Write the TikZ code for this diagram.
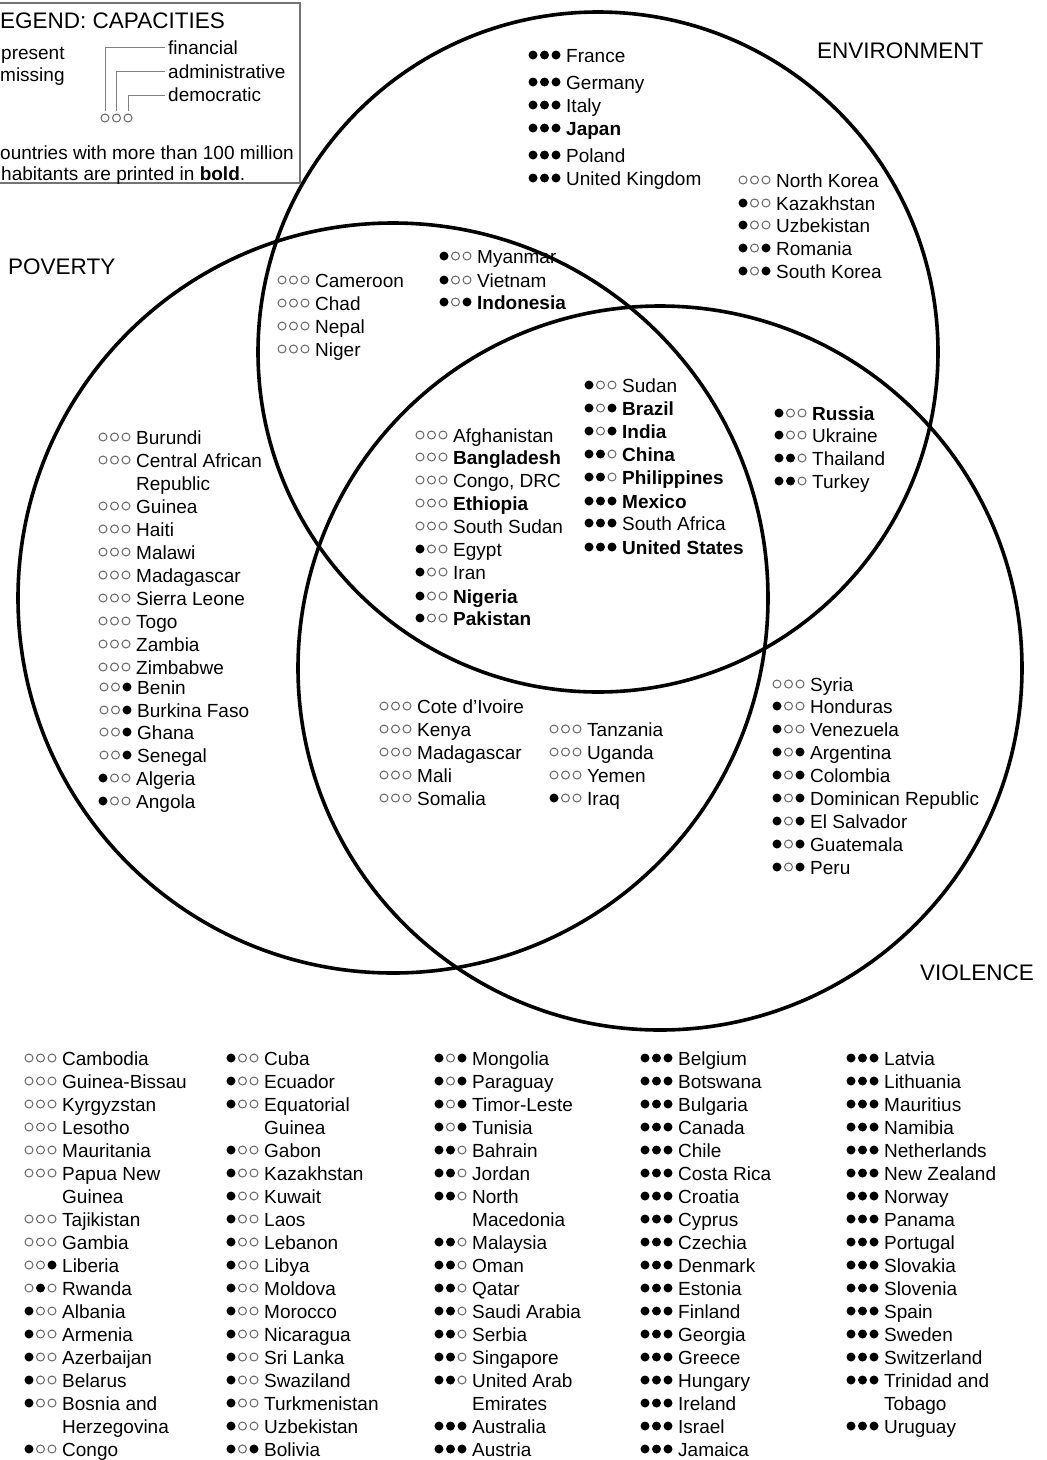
\documentclass[tikz,border=0pt]{standalone}
\usepackage{fontspec}
\setmainfont{Liberation Sans}
\tikzset{
  vc/.style={line width=3.6pt},
  capF/.style={circle, fill=black, inner sep=0pt, minimum size=9pt},
  capO/.style={circle, draw=black!60, line width=1pt, inner sep=0pt, minimum size=8pt},
  ctext/.style={anchor=base west, inner sep=0pt, font=\fontsize{19}{23}\selectfont},
  biglbl/.style={anchor=base west, inner sep=0pt, font=\fontsize{22.5}{27}\selectfont},
  legline/.style={draw=black!50, line width=0.9pt},
  legbox/.style={draw=black!55, line width=1.5pt, fill=white},
}
% #1 text x, #2 y (visual centre of the line), #3-#5 dot types (F/O), #6 name
\newcommand\cty[6]{%
  \node[cap#3] at ({#1-33},{#2}) {};
  \node[cap#4] at ({#1-21.5},{#2}) {};
  \node[cap#5] at ({#1-10},{#2}) {};
  \node[ctext] at ({#1},{#2+7}) {#6};
}
\newcommand\ctycont[3]{\node[ctext] at ({#1},{#2+7}) {#3};}
\begin{document}
\begin{tikzpicture}[x=1pt,y=-1pt]
\useasboundingbox (0,0) rectangle (1047,1460);
\fill[white] (0,0) rectangle (1047,1460);
\clip (0,0) rectangle (1047,1460);

% Venn circles
\draw[vc] (598,352) circle[radius=340pt];
\draw[vc] (393,598) circle[radius=375pt];
\draw[vc] (660,668) circle[radius=362pt];

% Legend
\draw[legbox] (-10,3) rectangle (300,183);
\node[biglbl] (legtitle) at (0,28) {EGEND: CAPACITIES};
\node[ctext] (lpres) at (1,59) {present};
\node[ctext] (lmiss) at (0,81) {missing};
\node[ctext] (lfin) at (168,54) {financial};
\node[ctext] (ladm) at (168,78) {administrative};
\node[ctext] (ldem) at (168,101) {democratic};
\node[capO] (ld1) at (105,118) {};
\node[capO] (ld2) at (116.5,118) {};
\node[capO] (ld3) at (128,118) {};
\draw[legline] ([yshift=3pt]ld1.north) |- (165,47);
\draw[legline] ([yshift=3pt]ld2.north) |- (165,71);
\draw[legline] ([yshift=3pt]ld3.north) |- (165,95);
\node[ctext] (lnote1) at (0,159) {ountries with more than 100 million};
\node[ctext] (lnote2) at (1,180) {habitants are printed in \textbf{bold}.};

% Set labels
\node[biglbl] (lpov) at (8,274) {POVERTY};
\node[biglbl] (lenv) at (817,58) {ENVIRONMENT};
\node[biglbl] (lvio) at (920,980) {VIOLENCE};

% Environment only
\cty{566}{55}{F}{F}{F}{France}
\cty{566}{82}{F}{F}{F}{Germany}
\cty{566}{105}{F}{F}{F}{Italy}
\cty{566}{128}{F}{F}{F}{\bfseries Japan}
\cty{566}{155}{F}{F}{F}{Poland}
\cty{566}{178}{F}{F}{F}{United Kingdom}
\cty{776}{180}{O}{O}{O}{North Korea}
\cty{776}{203}{F}{O}{O}{Kazakhstan}
\cty{776}{225}{F}{O}{O}{Uzbekistan}
\cty{776}{248}{F}{O}{F}{Romania}
\cty{776}{271}{F}{O}{F}{South Korea}

% Poverty and Environment
\cty{315}{280}{O}{O}{O}{Cameroon}
\cty{315}{303}{O}{O}{O}{Chad}
\cty{315}{326}{O}{O}{O}{Nepal}
\cty{315}{349}{O}{O}{O}{Niger}
\cty{477}{256}{F}{O}{O}{Myanmar}
\cty{477}{280}{F}{O}{O}{Vietnam}
\cty{477}{302}{F}{O}{F}{\bfseries Indonesia}

% All three
\cty{453}{435}{O}{O}{O}{Afghanistan}
\cty{453}{457}{O}{O}{O}{\bfseries Bangladesh}
\cty{453}{480}{O}{O}{O}{Congo, DRC}
\cty{453}{503}{O}{O}{O}{\bfseries Ethiopia}
\cty{453}{526}{O}{O}{O}{South Sudan}
\cty{453}{549}{F}{O}{O}{Egypt}
\cty{453}{572}{F}{O}{O}{Iran}
\cty{453}{596}{F}{O}{O}{\bfseries Nigeria}
\cty{453}{618}{F}{O}{O}{\bfseries Pakistan}
\cty{622}{385}{F}{O}{O}{Sudan}
\cty{622}{408}{F}{O}{F}{\bfseries Brazil}
\cty{622}{431}{F}{O}{F}{\bfseries India}
\cty{622}{454}{F}{F}{O}{\bfseries China}
\cty{622}{477}{F}{F}{O}{\bfseries Philippines}
\cty{622}{501}{F}{F}{F}{\bfseries Mexico}
\cty{622}{523}{F}{F}{F}{South Africa}
\cty{622}{547}{F}{F}{F}{\bfseries United States}

% Environment and Violence
\cty{812}{413}{F}{O}{O}{\bfseries Russia}
\cty{812}{435}{F}{O}{O}{Ukraine}
\cty{812}{458}{F}{F}{O}{Thailand}
\cty{812}{481}{F}{F}{O}{Turkey}

% Poverty only
\cty{136}{437}{O}{O}{O}{Burundi}
\cty{136}{460}{O}{O}{O}{Central African}
\ctycont{136}{483}{Republic}
\cty{136}{506}{O}{O}{O}{Guinea}
\cty{136}{529}{O}{O}{O}{Haiti}
\cty{136}{552}{O}{O}{O}{Malawi}
\cty{136}{575}{O}{O}{O}{Madagascar}
\cty{136}{598}{O}{O}{O}{Sierra Leone}
\cty{136}{621}{O}{O}{O}{Togo}
\cty{136}{644}{O}{O}{O}{Zambia}
\cty{136}{667}{O}{O}{O}{Zimbabwe}
\cty{137}{687}{O}{O}{F}{Benin}
\cty{137}{710}{O}{O}{F}{Burkina Faso}
\cty{137}{732}{O}{O}{F}{Ghana}
\cty{137}{755}{O}{O}{F}{Senegal}
\cty{136}{778}{F}{O}{O}{Algeria}
\cty{136}{801}{F}{O}{O}{Angola}

% Poverty and Violence
\cty{417}{706}{O}{O}{O}{Cote d'Ivoire}
\cty{417}{729}{O}{O}{O}{Kenya}
\cty{417}{752}{O}{O}{O}{Madagascar}
\cty{417}{775}{O}{O}{O}{Mali}
\cty{417}{798}{O}{O}{O}{Somalia}
\cty{587}{729}{O}{O}{O}{Tanzania}
\cty{587}{752}{O}{O}{O}{Uganda}
\cty{587}{775}{O}{O}{O}{Yemen}
\cty{587}{798}{F}{O}{O}{Iraq}

% Violence only
\cty{810}{684}{O}{O}{O}{Syria}
\cty{810}{706}{F}{O}{O}{Honduras}
\cty{810}{729}{F}{O}{O}{Venezuela}
\cty{810}{752}{F}{O}{F}{Argentina}
\cty{810}{775}{F}{O}{F}{Colombia}
\cty{810}{798}{F}{O}{F}{Dominican Republic}
\cty{810}{821}{F}{O}{F}{El Salvador}
\cty{810}{844}{F}{O}{F}{Guatemala}
\cty{810}{867}{F}{O}{F}{Peru}

% None of the three: column 1
\cty{62}{1058}{O}{O}{O}{Cambodia}
\cty{62}{1081}{O}{O}{O}{Guinea-Bissau}
\cty{62}{1104}{O}{O}{O}{Kyrgyzstan}
\cty{62}{1127}{O}{O}{O}{Lesotho}
\cty{62}{1150}{O}{O}{O}{Mauritania}
\cty{62}{1173}{O}{O}{O}{Papua New}
\ctycont{62}{1196}{Guinea}
\cty{62}{1219}{O}{O}{O}{Tajikistan}
\cty{62}{1242}{O}{O}{O}{Gambia}
\cty{62}{1265}{O}{O}{F}{Liberia}
\cty{62}{1288}{O}{F}{O}{Rwanda}
\cty{62}{1311}{F}{O}{O}{Albania}
\cty{62}{1334}{F}{O}{O}{Armenia}
\cty{62}{1357}{F}{O}{O}{Azerbaijan}
\cty{62}{1380}{F}{O}{O}{Belarus}
\cty{62}{1403}{F}{O}{O}{Bosnia and}
\ctycont{62}{1426}{Herzegovina}
\cty{62}{1449}{F}{O}{O}{Congo}

% column 2
\cty{264}{1058}{F}{O}{O}{Cuba}
\cty{264}{1081}{F}{O}{O}{Ecuador}
\cty{264}{1104}{F}{O}{O}{Equatorial}
\ctycont{264}{1127}{Guinea}
\cty{264}{1150}{F}{O}{O}{Gabon}
\cty{264}{1173}{F}{O}{O}{Kazakhstan}
\cty{264}{1196}{F}{O}{O}{Kuwait}
\cty{264}{1219}{F}{O}{O}{Laos}
\cty{264}{1242}{F}{O}{O}{Lebanon}
\cty{264}{1265}{F}{O}{O}{Libya}
\cty{264}{1288}{F}{O}{O}{Moldova}
\cty{264}{1311}{F}{O}{O}{Morocco}
\cty{264}{1334}{F}{O}{O}{Nicaragua}
\cty{264}{1357}{F}{O}{O}{Sri Lanka}
\cty{264}{1380}{F}{O}{O}{Swaziland}
\cty{264}{1403}{F}{O}{O}{Turkmenistan}
\cty{264}{1426}{F}{O}{O}{Uzbekistan}
\cty{264}{1449}{F}{O}{F}{Bolivia}

% column 3
\cty{472}{1058}{F}{O}{F}{Mongolia}
\cty{472}{1081}{F}{O}{F}{Paraguay}
\cty{472}{1104}{F}{O}{F}{Timor-Leste}
\cty{472}{1127}{F}{O}{F}{Tunisia}
\cty{472}{1150}{F}{F}{O}{Bahrain}
\cty{472}{1173}{F}{F}{O}{Jordan}
\cty{472}{1196}{F}{F}{O}{North}
\ctycont{472}{1219}{Macedonia}
\cty{472}{1242}{F}{F}{O}{Malaysia}
\cty{472}{1265}{F}{F}{O}{Oman}
\cty{472}{1288}{F}{F}{O}{Qatar}
\cty{472}{1311}{F}{F}{O}{Saudi Arabia}
\cty{472}{1334}{F}{F}{O}{Serbia}
\cty{472}{1357}{F}{F}{O}{Singapore}
\cty{472}{1380}{F}{F}{O}{United Arab}
\ctycont{472}{1403}{Emirates}
\cty{472}{1426}{F}{F}{F}{Australia}
\cty{472}{1449}{F}{F}{F}{Austria}

% column 4
\foreach \n [count=\i from 0] in {Belgium,Botswana,Bulgaria,Canada,Chile,Costa Rica,Croatia,Cyprus,Czechia,Denmark,Estonia,Finland,Georgia,Greece,Hungary,Ireland,Israel,Jamaica}
  {\cty{678}{1058+23*\i}{F}{F}{F}{\n}}

% column 5
\foreach \n [count=\i from 0] in {Latvia,Lithuania,Mauritius,Namibia,Netherlands,New Zealand,Norway,Panama,Portugal,Slovakia,Slovenia,Spain,Sweden,Switzerland,Trinidad and}
  {\cty{884}{1058+23*\i}{F}{F}{F}{\n}}
\ctycont{884}{1403}{Tobago}
\cty{884}{1426}{F}{F}{F}{Uruguay}
\end{tikzpicture}
\end{document}
